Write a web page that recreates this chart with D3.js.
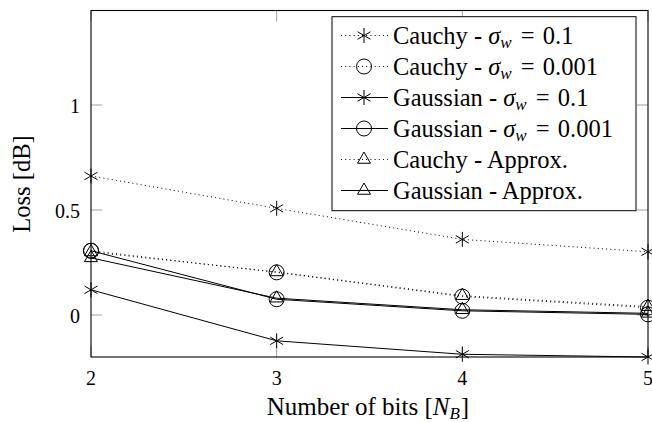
<!DOCTYPE html>
<html>
<head>
<meta charset="utf-8">
<script src="https://cdn.jsdelivr.net/npm/d3@7"></script>
<style>
  html, body { margin: 0; padding: 0; background: #fff; }
  svg { display: block; }
  svg text { font-family: "Liberation Serif", "Times New Roman", serif; }
</style>
</head>
<body>
<svg id="chart" width="652" height="422"></svg>
<script>
// ---- data ----
const bits = [2, 3, 4, 5];
const cauchy01 = [0.662, 0.508, 0.360, 0.301];
const cauchy0001 = [0.306, 0.203, 0.088, 0.035];
const gauss01 = [0.120, -0.123, -0.187, -0.200];
const gauss0001 = [0.306, 0.075, 0.020, 0.003];
const cauchyApprox = [0.300, 0.205, 0.092, 0.040];
const gaussApprox = [0.272, 0.080, 0.025, 0.008];
const xTicks = [2, 3, 4, 5];
const yTicks = [0, 0.5, 1];
const yTickLabels = ["0", "0.5", "1"];

const seriesNames = [
  {name: "Cauchy - ", sub: "0.1", values: cauchy01, dash: true, mark: "asterisk"},
  {name: "Cauchy - ", sub: "0.001", values: cauchy0001, dash: true, mark: "circle"},
  {name: "Gaussian - ", sub: "0.1", values: gauss01, dash: false, mark: "asterisk"},
  {name: "Gaussian - ", sub: "0.001", values: gauss0001, dash: false, mark: "circle"},
  {name: "Cauchy - Approx.", sub: null, values: cauchyApprox, dash: true, mark: "triangle"},
  {name: "Gaussian - Approx.", sub: null, values: gaussApprox, dash: false, mark: "triangle"}
];

// ---- layout ----
const L = 91, R = 648, T = 10.5, B = 357;
const x = d3.scaleLinear().domain([2, 5]).range([L, R]);
const y = d3.scaleLinear().domain([-0.2, 1.45]).range([B, T]);
const svg = d3.select("#chart");
const DOT = "1,3.2";
const MR = 7.5;

function drawMark(g, mark, cx, cy) {
  if (mark === "circle") {
    g.append("circle").attr("cx", cx).attr("cy", cy).attr("r", MR)
      .attr("fill", "none").attr("stroke", "#000").attr("stroke-width", 1);
  } else if (mark === "triangle") {
    const pts = [90, 210, 330].map(a => {
      const rad = a * Math.PI / 180;
      return [cx + MR * Math.cos(rad), cy - MR * Math.sin(rad)];
    });
    g.append("path").attr("d", "M" + pts.map(p => p.join(",")).join("L") + "Z")
      .attr("fill", "none").attr("stroke", "#000").attr("stroke-width", 1);
  } else {
    let d = "";
    [90, 30, 150].forEach(a => {
      const rad = a * Math.PI / 180;
      const dx = MR * Math.cos(rad), dy = MR * Math.sin(rad);
      d += `M${cx - dx},${cy + dy}L${cx + dx},${cy - dy}`;
    });
    g.append("path").attr("d", d).attr("fill", "none")
      .attr("stroke", "#000").attr("stroke-width", 1);
  }
}

// ---- ticks (gray, inside, mirrored) ----
const tickLen = 11;
const tg = svg.append("g").attr("stroke", "#a0a0a0").attr("stroke-width", 1);
xTicks.forEach(t => {
  tg.append("line").attr("x1", x(t)).attr("x2", x(t)).attr("y1", B).attr("y2", B - tickLen);
  tg.append("line").attr("x1", x(t)).attr("x2", x(t)).attr("y1", T).attr("y2", T + tickLen);
});
yTicks.forEach(t => {
  tg.append("line").attr("x1", L).attr("x2", L + tickLen).attr("y1", y(t)).attr("y2", y(t));
  tg.append("line").attr("x1", R).attr("x2", R - tickLen).attr("y1", y(t)).attr("y2", y(t));
});

// ---- tick labels ----
xTicks.forEach(t => {
  svg.append("text").attr("x", x(t)).attr("y", 385).attr("text-anchor", "middle")
    .attr("font-size", 20).text(t);
});
yTicks.forEach((t, i) => {
  svg.append("text").attr("x", 80).attr("y", y(t) + 7.5).attr("text-anchor", "end")
    .attr("font-size", 20).text(yTickLabels[i]);
});

// ---- series ----
const line = d3.line().x((d, i) => x(bits[i])).y(d => y(d));
seriesNames.forEach(s => {
  const g = svg.append("g");
  g.append("path").datum(s.values).attr("d", line).attr("fill", "none")
    .attr("stroke", "#000").attr("stroke-width", 1)
    .attr("stroke-dasharray", s.dash ? DOT : null);
  s.values.forEach((v, i) => drawMark(g, s.mark, x(bits[i]), y(v)));
});

// ---- frame ----
svg.append("rect").attr("x", L).attr("y", T).attr("width", R - L).attr("height", B - T)
  .attr("fill", "none").attr("stroke", "#000").attr("stroke-width", 1.1);

// ---- axis labels ----
const xl = svg.append("text").attr("x", 368).attr("y", 415).attr("text-anchor", "middle")
  .attr("font-size", 25);
xl.append("tspan").text("Number of bits [");
xl.append("tspan").attr("font-style", "italic").text("N");
xl.append("tspan").attr("font-style", "italic").attr("font-size", 17).attr("dy", 4).text("B");
xl.append("tspan").attr("dy", -4).attr("dx", 1).text("]");

svg.append("text").attr("transform", "translate(30,184) rotate(-90)")
  .attr("text-anchor", "middle").attr("font-size", 24.5).text("Loss [dB]");

// ---- legend ----
const lg = svg.append("g");
lg.append("rect").attr("x", 332).attr("y", 16.7).attr("width", 304).attr("height", 194)
  .attr("fill", "#fff").attr("stroke", "#000").attr("stroke-width", 1);
seriesNames.forEach((s, i) => {
  const cy = 35.5 + i * 31;
  lg.append("line").attr("x1", 341).attr("x2", 388).attr("y1", cy).attr("y2", cy)
    .attr("stroke", "#000").attr("stroke-width", 1)
    .attr("stroke-dasharray", s.dash ? DOT : null);
  drawMark(lg, s.mark, 364, cy);
  const t = lg.append("text").attr("x", 393).attr("y", cy + 8).attr("font-size", 24.5);
  t.append("tspan").text(s.name);
  if (s.sub) {
    t.append("tspan").attr("font-style", "italic").text("σ");
    t.append("tspan").attr("font-style", "italic").attr("font-size", 17).attr("dy", 4).text("w");
    t.append("tspan").attr("dy", -4).attr("dx", 3).text("\u00A0=\u00A0");
    t.append("tspan").attr("dx", 2).text(s.sub);
  }
});
</script>
</body>
</html>
